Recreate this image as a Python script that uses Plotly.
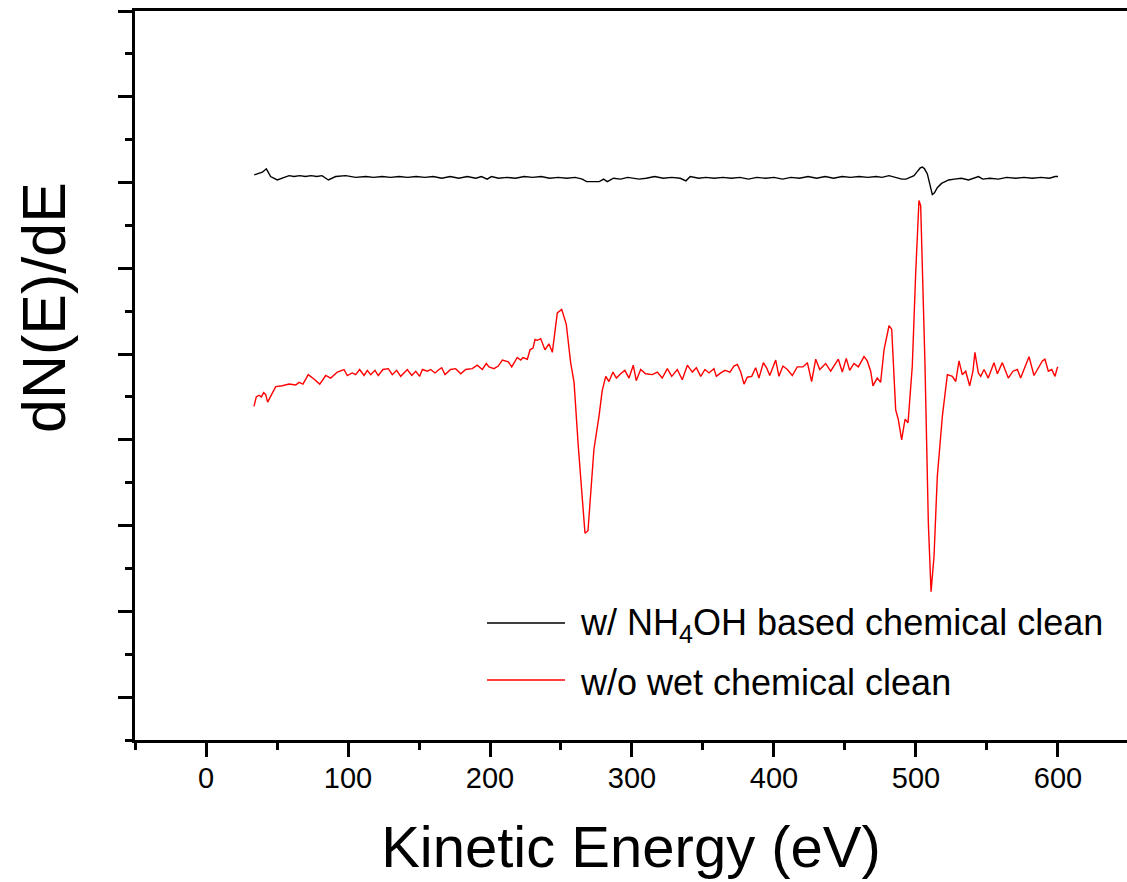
import plotly.graph_objects as go

# Auger spectra, derivative mode (arbitrary units)
energy_wo = [33.8, 35.4, 37.3, 39.0, 40.6, 42.0, 43.4, 46.3, 49.1, 53.8, 58.5, 63.2, 65.5, 68.3,
             72.0, 76.0, 80.1, 84.3, 87.8, 92.5, 97.2, 99.5, 103.0, 105.4, 108.2, 111.3, 113.6,
             116.0, 119.0, 121.3, 124.6, 128.4, 131.2, 134.3, 137.1, 141.8, 144.9, 147.7, 150.5,
             152.4, 155.9, 158.2, 161.3, 164.1, 166.0, 168.3, 172.3, 175.8, 179.4, 182.9, 187.5,
             191.0, 194.6, 197.4, 199.3, 202.8, 205.8, 208.7, 212.9, 215.3, 219.2, 221.6, 223.2,
             226.3, 228.2, 230.3, 231.7, 233.3, 235.7, 238.7, 241.5, 243.9, 247.4, 250.5, 253.7,
             256.8, 259.2, 262.2, 265.0, 266.9, 269.0, 273.2, 276.8, 279.0, 281.5, 283.8, 286.6,
             289.0, 292.0, 295.0, 297.9, 300.9, 303.0, 306.1, 309.6, 314.3, 317.8, 321.3, 324.9,
             328.0, 331.9, 335.4, 339.0, 342.5, 345.3, 348.4, 351.4, 354.2, 357.7, 359.4, 362.5,
             365.5, 369.0, 371.8, 374.2, 376.6, 378.9, 381.2, 384.3, 387.1, 389.4, 392.5, 394.8,
             397.0, 401.2, 403.5, 406.3, 409.4, 412.9, 416.4, 420.4, 423.5, 426.5, 429.4, 432.2,
             436.4, 439.9, 442.3, 445.3, 448.1, 450.9, 453.3, 456.3, 459.4, 463.4, 465.7, 468.1,
             469.7, 472.7, 475.1, 477.5, 481.0, 482.9, 485.7, 487.5, 489.9, 492.3, 494.4, 497.4,
             499.8, 502.1, 503.3, 506.3, 508.7, 510.6, 512.7, 515.0, 518.6, 522.1, 525.6, 528.0,
             530.3, 532.6, 535.0, 537.8, 540.1, 541.5, 543.9, 545.6, 547.9, 550.9, 554.9, 557.3,
             560.8, 565.0, 568.3, 571.4, 573.7, 577.3, 579.6, 583.1, 586.2, 589.0, 590.8, 593.2,
             595.6, 597.9, 599.5, 600.0]
signal_wo = [3.39, 3.50, 3.52, 3.50, 3.55, 3.53, 3.44, 3.53, 3.62, 3.63, 3.65, 3.64, 3.67, 3.65,
             3.76, 3.71, 3.65, 3.75, 3.72, 3.79, 3.82, 3.75, 3.78, 3.76, 3.82, 3.75, 3.81,
             3.76, 3.81, 3.75, 3.82, 3.83, 3.76, 3.81, 3.74, 3.82, 3.75, 3.80, 3.74,
             3.82, 3.80, 3.82, 3.78, 3.82, 3.84, 3.76, 3.82, 3.83, 3.77, 3.82, 3.83,
             3.87, 3.82, 3.89, 3.85, 3.83, 3.86, 3.93, 3.91, 3.85, 3.96, 3.93, 3.96,
             3.94, 4.05, 4.07, 4.17, 4.16, 4.18, 4.05, 4.12, 4.02, 4.48, 4.52, 4.35,
             3.90, 3.67, 2.92, 2.26, 1.91, 1.94, 2.89, 3.28, 3.57, 3.74, 3.68, 3.79,
             3.72, 3.77, 3.81, 3.72, 3.87, 3.69, 3.82, 3.77, 3.76, 3.79, 3.72, 3.83,
             3.74, 3.82, 3.70, 3.87, 3.79, 3.84, 3.74, 3.82, 3.78, 3.83, 3.74, 3.78,
             3.81, 3.79, 3.86, 3.88, 3.79, 3.65, 3.73, 3.74, 3.84, 3.72, 3.90, 3.84,
             3.75, 3.93, 3.74, 3.86, 3.82, 3.75, 3.85, 3.85, 3.90, 3.68, 3.94, 3.82,
             3.89, 3.80, 3.86, 3.94, 3.79, 3.95, 3.81, 3.89, 3.85, 3.97, 3.92, 3.80,
             3.63, 3.72, 3.67, 4.05, 4.33, 4.29, 3.35, 3.24, 3.00, 3.24, 3.20, 3.86,
             4.95, 5.79, 5.73, 3.90, 2.03, 1.23, 1.64, 2.57, 3.28, 3.76, 3.74, 3.68,
             3.92, 3.76, 3.80, 3.63, 3.80, 4.02, 3.78, 3.74, 3.82, 3.72, 3.90, 3.77,
             3.90, 3.72, 3.80, 3.82, 3.72, 3.88, 3.97, 3.75, 3.84, 3.92, 3.94, 3.80,
             3.82, 3.74, 3.84, 3.85]

energy_nh4oh = [34, 39.7, 42.5, 45.5, 50.2, 54.9, 58.5, 62, 66, 70, 74, 78, 81.7, 86.2, 91.3,
                98.4, 105.4, 112.5, 118, 124, 130, 136, 142, 148, 154, 160, 166, 172, 178, 184,
                190, 194, 198, 201, 206, 212, 218, 224, 230, 236, 242, 248, 254, 260, 265,
                268, 272, 277, 280, 282.6, 287, 292, 297, 305, 310, 316, 322, 328, 334, 338,
                341, 347, 352, 358, 364, 370, 376, 382, 388, 394, 400, 406, 412, 418, 424,
                430, 436, 442, 448, 454, 460, 466, 472, 476, 481, 486, 490, 493, 496, 498.6,
                501, 503, 504.5, 506, 508, 509.5, 511.5, 513, 515, 518, 523, 527, 532, 537,
                541, 544, 547, 552, 558, 564, 570, 576, 582, 588, 594, 598, 600]
signal_nh4oh = [6.09, 6.12, 6.16, 6.07, 6.03, 6.06, 6.08, 6.07, 6.08, 6.07, 6.08, 6.07, 6.08,
                6.03, 6.07, 6.08, 6.06, 6.07, 6.06, 6.07, 6.06, 6.07, 6.06, 6.07, 6.06, 6.07,
                6.05, 6.07, 6.05, 6.07, 6.05, 6.07, 6.04, 6.07, 6.05, 6.06, 6.05, 6.07, 6.06,
                6.07, 6.05, 6.06, 6.05, 6.06, 6.04, 6.01, 6.01, 6.01, 6.04, 6.01, 6.05, 6.04,
                6.06, 6.04, 6.05, 6.07, 6.05, 6.06, 6.05, 6.02, 6.07, 6.05, 6.06, 6.05, 6.06,
                6.05, 6.06, 6.04, 6.06, 6.05, 6.06, 6.04, 6.06, 6.05, 6.07, 6.05, 6.07, 6.05,
                6.07, 6.06, 6.07, 6.06, 6.07, 6.06, 6.08, 6.06, 6.04, 6.04, 6.06, 6.08,
                6.13, 6.17, 6.18, 6.16, 6.10, 6.01, 5.86, 5.88, 5.94, 5.99, 6.03, 6.04, 6.05,
                6.03, 6.05, 6.07, 6.04, 6.05, 6.04, 6.06, 6.05, 6.06, 6.05, 6.06, 6.05, 6.07, 6.07]

x_ticks = [0, 100, 200, 300, 400, 500, 600]
y_ticks = [0, 1, 2, 3, 4, 5, 6, 7, 8]

FONT = "Arial, Liberation Sans, sans-serif"

fig = go.Figure()
fig.add_trace(go.Scatter(x=energy_nh4oh, y=signal_nh4oh, mode="lines",
                         line=dict(color="black", width=1.4),
                         name="w/ NH<sub>4</sub>OH based chemical clean"))
fig.add_trace(go.Scatter(x=energy_wo, y=signal_wo, mode="lines",
                         line=dict(color="red", width=1.4),
                         name="w/o wet chemical clean"))

fig.update_layout(
    width=1127, height=882,
    margin=dict(l=135, r=0, t=11, b=142),
    paper_bgcolor="white", plot_bgcolor="white",
    showlegend=False,
    font=dict(family=FONT, color="black"),
)

fig.update_xaxes(
    range=[-50, 648.6],
    tickmode="array", tickvals=x_ticks,
    ticks="outside", ticklen=14, tickwidth=3, tickcolor="black",
    minor=dict(dtick=50, tick0=-50, ticks="outside", ticklen=7, tickwidth=3, tickcolor="black"),
    showline=True, linewidth=3, linecolor="black", mirror=True,
    showgrid=False, zeroline=False,
    tickfont=dict(size=29, family=FONT),
    ticklabelstandoff=-4,
    title=dict(text="Kinetic Energy (eV)", font=dict(size=58, family=FONT), standoff=34),
)
fig.update_yaxes(
    range=[-0.5, 8.0],
    tickmode="array", tickvals=y_ticks, showticklabels=False,
    ticks="outside", ticklen=14, tickwidth=3, tickcolor="black",
    minor=dict(dtick=0.5, tick0=0.5, ticks="outside", ticklen=7, tickwidth=3, tickcolor="black"),
    showline=True, linewidth=3, linecolor="black",
    showgrid=False, zeroline=False,
)

# y-axis label
fig.add_annotation(text="dN(E)/dE", xref="paper", yref="paper",
                   x=-0.0917, y=0.5926, xanchor="center", yanchor="middle",
                   textangle=-90, showarrow=False, font=dict(size=61, family=FONT))

# legend block: sample line + label
legend_items = [("black", "w/ NH<sub>4</sub>OH based chemical clean", 0.1605),
                ("red", "w/o wet chemical clean", 0.0823)]
for color, label, yy in legend_items:
    fig.add_shape(type="line", xref="paper", yref="paper",
                  x0=0.3548, x1=0.4335, y0=yy, y1=yy,
                  line=dict(color=color, width=1.3))
    fig.add_annotation(text=label, xref="paper", yref="paper",
                       x=0.4466, y=yy - 0.003, xanchor="left", yanchor="middle",
                       showarrow=False, font=dict(size=36, family=FONT))

fig.write_html("out.html")
